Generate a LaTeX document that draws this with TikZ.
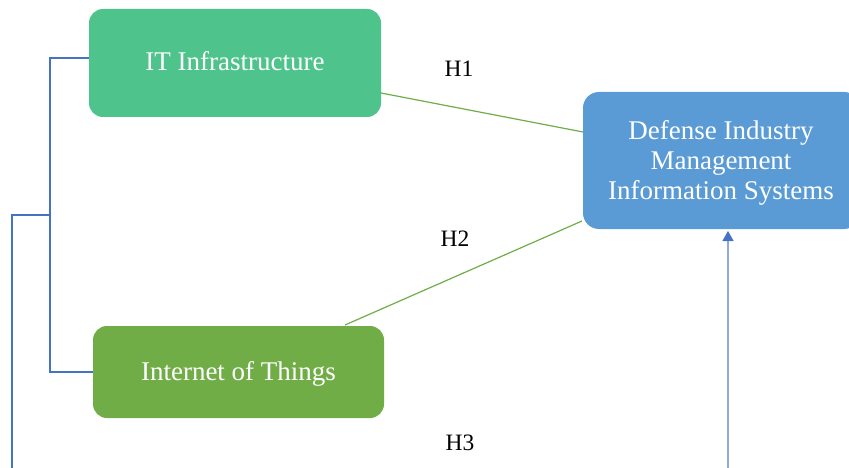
\documentclass[tikz,border=0pt]{standalone}
\usepackage{fontspec}
\setmainfont{Liberation Serif}
\usetikzlibrary{arrows.meta}
\definecolor{tealgreen}{RGB}{78,196,140}
\definecolor{leafgreen}{RGB}{112,173,71}
\definecolor{boxblue}{RGB}{91,155,213}
\definecolor{linkblue}{RGB}{68,114,196}
\definecolor{arrowblue}{RGB}{143,170,220}
\tikzset{
  box/.style={rounded corners=14pt, draw=none, text=white, align=center,
    font=\fontsize{27}{30}\selectfont, inner sep=0pt},
  hlabel/.style={font=\fontsize{23.5}{26}\selectfont, text=black},
  hline/.style={leafgreen, line width=1.2pt},
  bracket/.style={linkblue, line width=1.1pt},
}
\begin{document}
\begin{tikzpicture}[x=1pt,y=-1pt]
\useasboundingbox (0,0) rectangle (849,468);
\begin{scope}
\clip (0,0) rectangle (849,468);
% boxes
\fill[tealgreen, rounded corners=14pt] (89,9) rectangle (381,117);
\node[box] (it) at (235,61) {IT Infrastructure};
\coordinate (itW) at (89,58);
\coordinate (itE) at (381,93);
\fill[leafgreen, rounded corners=14pt] (93,326) rectangle (384,418);
\node[box] (iot) at (238.5,374) {Internet of Things};
\coordinate (iotW) at (93,372);
\coordinate (iotN) at (345,325);
\fill[boxblue, rounded corners=16pt] (583,92) rectangle (860,229);
\node[box] (dims) at (721,162.5) {Defense Industry\\Management\\Information Systems};
\coordinate (dimsW1) at (583,132);
\coordinate (dimsW2) at (582,221);
\coordinate (dimsS) at (728,231);
% hypothesis links
\draw[hline] (itE) -- (dimsW1);
\draw[hline] (iotN) -- (dimsW2);
% bracket
\coordinate (bt) at (50,58);
\coordinate (bb) at (50,372);
\coordinate (bm) at (50,215);
\coordinate (bl) at (12,215);
\coordinate (bend) at (12,470);
\draw[bracket] (itW) -- (bt) -- (bb) -- (iotW);
\draw[bracket] (bm) -- (bl) -- (bend);
% arrow
\coordinate (abot) at (728,470);
\draw[arrowblue, line width=1.3pt, -{Triangle[width=11pt,length=10pt,fill=linkblue,color=linkblue]}] (abot) -- (dimsS);
% labels
\node[hlabel] (h1) at (459,69) {H1};
\node[hlabel] (h2) at (455,239) {H2};
\node[hlabel] (h3) at (460,443) {H3};
\end{scope}
\end{tikzpicture}
\end{document}
